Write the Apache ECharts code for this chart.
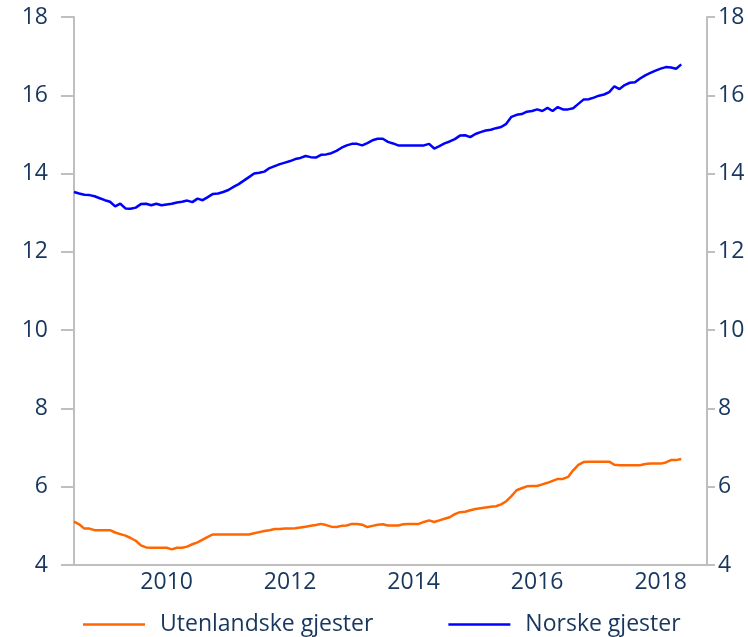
<!DOCTYPE html>
<html>
<head>
<meta charset="utf-8">
<script src="https://cdn.jsdelivr.net/npm/echarts@6/dist/echarts.min.js"></script>
<style>
  html, body { margin: 0; padding: 0; background: #fff; }
  #chart { width: 748px; height: 637px; }
</style>
</head>
<body>
<div id="chart"></div>
<script>
// månedlige tall, 2008-07 til 2018-05
var startYear = 2008;
var startMonth = 7;
var monthCount = 124; // akse går litt forbi siste observasjon

var seriesNames = ['Utenlandske gjester', 'Norske gjester'];

var utenlandske = [
    5.11, 5.04, 4.93, 4.93, 4.89, 4.89, 4.89, 4.89, 4.83, 4.79,
    4.75, 4.69, 4.62, 4.50, 4.45, 4.44, 4.44, 4.44, 4.44, 4.40,
    4.44, 4.44, 4.47, 4.53, 4.58, 4.65, 4.72, 4.78, 4.78, 4.78,
    4.78, 4.78, 4.78, 4.78, 4.78, 4.81, 4.84, 4.87, 4.89, 4.92,
    4.92, 4.93, 4.93, 4.94, 4.96, 4.98, 5.00, 5.02, 5.05, 5.02,
    4.98, 4.97, 5.00, 5.01, 5.05, 5.05, 5.03, 4.97, 5.00, 5.03,
    5.04, 5.01, 5.01, 5.01, 5.04, 5.05, 5.05, 5.05, 5.10, 5.14,
    5.10, 5.14, 5.18, 5.22, 5.30, 5.35, 5.36, 5.40, 5.43, 5.45,
    5.47, 5.49, 5.50, 5.55, 5.63, 5.76, 5.91, 5.96, 6.01, 6.02,
    6.02, 6.06, 6.10, 6.15, 6.20, 6.20, 6.25, 6.42, 6.56, 6.63,
    6.64, 6.64, 6.64, 6.64, 6.64, 6.56, 6.55, 6.55, 6.55, 6.55,
    6.55, 6.58, 6.59, 6.59, 6.59, 6.62, 6.68, 6.68, 6.71
];

var norske = [
    13.53, 13.49, 13.46, 13.45, 13.42, 13.37, 13.32, 13.28, 13.16, 13.23,
    13.11, 13.10, 13.13, 13.22, 13.23, 13.19, 13.23, 13.19, 13.21, 13.23,
    13.26, 13.28, 13.31, 13.27, 13.36, 13.32, 13.40, 13.48, 13.49, 13.53,
    13.58, 13.66, 13.73, 13.82, 13.91, 14.00, 14.02, 14.05, 14.14, 14.19,
    14.24, 14.28, 14.32, 14.37, 14.40, 14.45, 14.42, 14.41, 14.48, 14.49,
    14.52, 14.58, 14.66, 14.72, 14.76, 14.76, 14.72, 14.78, 14.85, 14.89,
    14.89, 14.81, 14.77, 14.72, 14.72, 14.72, 14.72, 14.72, 14.72, 14.76,
    14.64, 14.70, 14.77, 14.82, 14.88, 14.97, 14.98, 14.93, 15.01, 15.06,
    15.10, 15.12, 15.16, 15.19, 15.27, 15.45, 15.50, 15.52, 15.58, 15.60,
    15.64, 15.60, 15.68, 15.60, 15.70, 15.64, 15.64, 15.67, 15.78, 15.89,
    15.90, 15.94, 15.99, 16.02, 16.08, 16.23, 16.16, 16.26, 16.32, 16.33,
    16.43, 16.51, 16.57, 16.63, 16.68, 16.72, 16.71, 16.68, 16.79
];

var yTicks = { min: 4, max: 18, interval: 2 };

var fontColor = '#17375e';
var fontFamily = '"Open Sans", sans-serif';
var fontSize = 23;
var axisGray = '#bfbfbf';

// kategorier: 'YYYY-MM'
var months = [];
for (var i = 0; i < monthCount; i++) {
    var m = startMonth - 1 + i;
    var y = startYear + Math.floor(m / 12);
    var mm = (m % 12) + 1;
    months.push(y + '-' + (mm < 10 ? '0' + mm : mm));
}

// bare januar i partallsår får etikett
function isLabelMonth(index, value) {
    var parts = value.split('-');
    return parts[1] === '01' && parseInt(parts[0], 10) % 2 === 0;
}

function yAxis(position, tickLen, margin) {
    return {
        type: 'value',
        position: position,
        min: yTicks.min,
        max: yTicks.max,
        interval: yTicks.interval,
        axisLine: { show: true, lineStyle: { color: axisGray, width: 2 } },
        axisTick: { show: true, inside: false, length: tickLen, lineStyle: { color: axisGray, width: 2 } },
        splitLine: { show: false },
        axisLabel: {
            color: fontColor,
            fontFamily: fontFamily,
            fontSize: fontSize,
            margin: margin
        }
    };
}

var chart = echarts.init(document.getElementById('chart'), null, { renderer: 'canvas' });
chart.setOption({
    animation: false,
    backgroundColor: '#fff',
    grid: { left: 74, right: 41, top: 17, bottom: 72 },
    legend: {
        left: 83,
        top: 613,
        padding: 0,
        icon: 'rect',
        itemWidth: 62,
        itemHeight: 2.5,
        itemGap: 75,
        textStyle: {
            color: fontColor,
            fontFamily: fontFamily,
            fontSize: fontSize,
            padding: [0, 0, 0, 10]
        },
        data: seriesNames
    },
    xAxis: {
        type: 'category',
        boundaryGap: false,
        data: months,
        axisLine: { show: true, lineStyle: { color: axisGray, width: 2 } },
        axisTick: { show: false },
        splitLine: { show: false },
        axisLabel: {
            interval: isLabelMonth,
            formatter: function (v) { return v.split('-')[0]; },
            color: fontColor,
            fontFamily: fontFamily,
            fontSize: fontSize,
            margin: 6
        }
    },
    yAxis: [
        yAxis('left', 13, 26),
        yAxis('right', 8, 11)
    ],
    series: [
        {
            name: seriesNames[0],
            type: 'line',
            yAxisIndex: 0,
            symbol: 'none',
            lineStyle: { color: '#ff6600', width: 2.5 },
            itemStyle: { color: '#ff6600' },
            data: utenlandske
        },
        {
            name: seriesNames[1],
            type: 'line',
            yAxisIndex: 0,
            symbol: 'none',
            lineStyle: { color: '#0000ff', width: 2.5 },
            itemStyle: { color: '#0000ff' },
            data: norske
        }
    ]
});
</script>
</body>
</html>
